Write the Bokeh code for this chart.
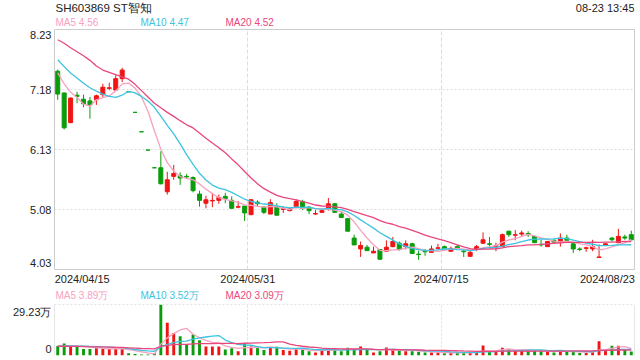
from bokeh.plotting import figure
from bokeh.layouts import column
from bokeh.models import Range1d, FixedTicker, Span
from bokeh.core.properties import value
from bokeh.embed import file_html
from bokeh.resources import INLINE

FONT = "Liberation Sans"
RED = "#f01414"
GREEN = "#0a9c0a"
C_MA5 = "#f7a1bf"
C_MA10 = "#3cc3df"
C_MA20 = "#e9467d"
BORDER = "#cccccc"
GRID = "#dcdcdc"

title_text = "SH603869 ST智知"
time_text = "08-23 13:45"
price_legend = ["MA5 4.56", "MA10 4.47", "MA20 4.52"]
vol_legend = ["MA5 3.89万", "MA10 3.52万", "MA20 3.09万"]
x_tick_labels = ["2024/04/15", "2024/05/31", "2024/07/15", "2024/08/23"]
price_tick_labels = ["4.03", "5.08", "6.13", "7.18", "8.23"]
vol_tick_labels = ["0", "29.23万"]

open_ = [7.50, 7.12, 6.60, 7.08, 7.01, 6.98, 7.00, 7.09, 7.20, 7.17,
         7.37, 7.14, 6.78, 6.44, 6.12, 5.81, 5.81, 5.39, 5.66, 5.67,
         5.66, 5.64, 5.35, 5.19, 5.23, 5.24, 5.31, 5.24, 5.12, 5.14,
         4.99, 5.21, 5.12, 5.00, 5.13, 5.08, 5.06, 5.13, 5.22, 5.12,
         5.00, 5.03, 5.09, 5.18, 5.00, 4.92, 4.58, 4.39, 4.42, 4.32,
         4.38, 4.35, 4.43, 4.49, 4.43, 4.48, 4.30, 4.36, 4.33, 4.40,
         4.43, 4.35, 4.43, 4.35, 4.26, 4.38, 4.49, 4.48, 4.43, 4.43,
         4.70, 4.63, 4.65, 4.66, 4.61, 4.47, 4.43, 4.54, 4.52, 4.58,
         4.48, 4.39, 4.40, 4.39, 4.24, 4.46, 4.58, 4.50, 4.60, 4.64]
high = [7.53, 7.12, 7.04, 7.14, 7.09, 7.05, 7.09, 7.28, 7.30, 7.43,
        7.56, 7.14, 6.78, 6.44, 6.12, 5.81, 6.10, 5.74, 5.86, 5.73,
        5.70, 5.66, 5.41, 5.32, 5.37, 5.34, 5.37, 5.31, 5.23, 5.14,
        5.26, 5.24, 5.14, 5.26, 5.19, 5.13, 5.12, 5.26, 5.25, 5.14,
        5.07, 5.09, 5.28, 5.19, 5.05, 4.93, 4.64, 4.52, 4.46, 4.43,
        4.39, 4.54, 4.60, 4.52, 4.54, 4.50, 4.36, 4.39, 4.45, 4.48,
        4.45, 4.43, 4.46, 4.38, 4.38, 4.46, 4.68, 4.60, 4.50, 4.66,
        4.71, 4.72, 4.71, 4.70, 4.62, 4.55, 4.53, 4.56, 4.66, 4.64,
        4.49, 4.42, 4.43, 4.55, 4.47, 4.49, 4.60, 4.74, 4.64, 4.71]
low = [7.00, 6.48, 6.59, 6.94, 6.87, 6.67, 6.91, 7.05, 7.17, 7.17,
       7.31, 7.14, 6.78, 6.44, 6.12, 5.81, 5.52, 5.34, 5.60, 5.51,
       5.62, 5.38, 5.13, 5.10, 5.12, 5.18, 5.19, 5.10, 5.10, 4.88,
       4.98, 5.13, 5.00, 5.00, 4.98, 5.02, 5.05, 5.10, 5.07, 5.00,
       4.99, 5.02, 5.06, 5.03, 4.93, 4.70, 4.46, 4.25, 4.36, 4.32,
       4.20, 4.34, 4.42, 4.36, 4.38, 4.31, 4.20, 4.27, 4.32, 4.38,
       4.38, 4.34, 4.39, 4.25, 4.26, 4.35, 4.48, 4.43, 4.35, 4.43,
       4.60, 4.54, 4.60, 4.60, 4.49, 4.43, 4.43, 4.49, 4.43, 4.52,
       4.32, 4.35, 4.34, 4.35, 4.24, 4.45, 4.52, 4.49, 4.55, 4.54]
close = [7.10, 6.51, 7.03, 7.06, 6.93, 6.91, 7.07, 7.22, 7.21, 7.37,
         7.52, 7.14, 6.78, 6.44, 6.12, 5.81, 5.53, 5.60, 5.71, 5.63,
         5.65, 5.41, 5.24, 5.25, 5.24, 5.29, 5.27, 5.10, 5.13, 5.02,
         5.25, 5.18, 5.03, 5.20, 4.98, 5.10, 5.09, 5.22, 5.10, 5.06,
         5.01, 5.06, 5.18, 5.03, 4.94, 4.70, 4.46, 4.45, 4.36, 4.35,
         4.21, 4.42, 4.52, 4.38, 4.48, 4.31, 4.29, 4.34, 4.39, 4.41,
         4.39, 4.40, 4.40, 4.34, 4.33, 4.43, 4.55, 4.47, 4.45, 4.64,
         4.64, 4.64, 4.67, 4.64, 4.50, 4.46, 4.52, 4.51, 4.58, 4.54,
         4.39, 4.38, 4.41, 4.43, 4.25, 4.48, 4.55, 4.61, 4.58, 4.55]
# volume in units of 10k shares (万)
volume = [5.4, 6.9, 5.6, 5.2, 3.7, 3.7, 4.2, 3.8, 3.7, 4.0,
          4.0, 1.3, 0.8, 0.6, 0.6, 1.3, 29.23, 18.7, 12.9, 11.0,
          6.2, 12.1, 8.7, 5.2, 5.2, 5.2, 3.5, 4.2, 2.5, 7.0,
          5.2, 4.4, 3.1, 4.6, 5.0, 3.1, 2.7, 3.7, 3.3, 2.5,
          1.7, 3.3, 4.0, 3.8, 2.5, 4.4, 3.3, 5.2, 3.3, 1.7,
          2.5, 4.6, 3.3, 2.9, 2.5, 2.5, 2.1, 1.7, 1.7, 1.7,
          1.3, 1.5, 1.7, 1.7, 1.5, 1.7, 5.8, 2.5, 2.5, 4.4,
          3.6, 2.8, 3.1, 2.7, 2.7, 2.7, 2.2, 1.7, 2.9, 2.2,
          2.0, 1.5, 1.5, 2.65, 8.1, 2.8, 5.6, 5.6, 3.1, 2.35]

ma5_head = [7.47, 7.28, 7.13, 7.04]
ma10_head = [7.70, 7.58, 7.47, 7.38, 7.29, 7.21, 7.15, 7.10, 7.06]
ma20_head = [8.05, 7.99, 7.91, 7.84, 7.77, 7.69, 7.59, 7.52, 7.48, 7.44,
             7.40, 7.36, 7.27, 7.16, 7.05, 6.94, 6.86, 6.78, 6.71]
vma5_head = [5.2, 5.5, 5.6, 5.5]
vma10_head = [5.4, 5.5, 5.5, 5.4, 5.3, 5.2, 5.1, 4.9, 4.8]
vma20_head = [5.3, 5.3, 5.2, 5.2, 5.1, 5.0, 5.0, 4.9, 4.8, 4.7,
              4.6, 4.4, 4.2, 4.0, 3.9, 3.8, 5.2, 5.8, 6.2]


def moving_avg(series, win, head):
    out = []
    for i in range(len(series)):
        if i < win - 1:
            out.append(head[i])
        else:
            out.append(sum(series[i - win + 1:i + 1]) / win)
    return out


n = len(close)
xs = list(range(n))
colors = []
for i in range(n):
    if close[i] > open_[i]:
        colors.append(RED)
    elif close[i] < open_[i]:
        colors.append(GREEN)
    else:
        prev = close[i - 1] if i > 0 else close[i]
        colors.append(RED if close[i] >= prev else GREEN)
body_top = [max(o, c) for o, c in zip(open_, close)]
body_bot = [min(o, c) for o, c in zip(open_, close)]

W = 640
LEFT = 54
RIGHT = 6
x_range = Range1d(-0.5, n - 0.5)


def text_panel(height):
    f = figure(width=W, height=height, x_range=Range1d(LEFT, W - RIGHT), y_range=Range1d(height, 0),
               x_axis_location=None, y_axis_location=None,
               min_border_left=LEFT, min_border_right=RIGHT, min_border_top=0, min_border_bottom=0,
               outline_line_color=None, toolbar_location=None, output_backend="svg")
    f.xgrid.visible = False
    f.ygrid.visible = False
    return f


def add_text(f, x, y, txt, color, size, align="left"):
    f.text(x=[x], y=[y], text=[txt], text_font=value(FONT), text_font_size=size,
           text_color=color, text_align=align, text_baseline="middle")


def style_axis(ax):
    ax.axis_line_color = None
    ax.major_tick_line_color = None
    ax.minor_tick_line_color = None
    ax.major_tick_out = 0
    ax.major_tick_in = 0
    ax.major_label_standoff = 3
    ax.major_label_text_font = FONT
    ax.major_label_text_font_size = "11px"
    ax.major_label_text_color = "#222222"


# header (page y 0..28)
head = text_panel(28)
add_text(head, 55, 7, title_text, "#222222", "11.5px")
add_text(head, 634, 7, time_text, "#222222", "11px", align="right")
for xx, txt, col in zip([55, 140, 225], price_legend, [C_MA5, C_MA10, C_MA20]):
    add_text(head, xx, 21.5, txt, col, "10px")

# main candlestick panel (frame page y 29..269)
p = figure(width=W, height=260, x_range=x_range, y_range=Range1d(4.03, 8.23),
           min_border_left=LEFT, min_border_right=RIGHT, min_border_top=1, min_border_bottom=19,
           toolbar_location=None, output_backend="svg")
p.outline_line_color = BORDER

p.xaxis.ticker = FixedTicker(ticks=[3.8, 29.5, 59.5, 85.3])
p.xaxis.major_label_overrides = dict(zip([3.8, 29.5, 59.5, 85.3], x_tick_labels))
p.yaxis.ticker = FixedTicker(ticks=[4.14, 5.08, 6.13, 7.18, 8.13])
p.yaxis.major_label_overrides = dict(zip([4.14, 5.08, 6.13, 7.18, 8.13], price_tick_labels))
style_axis(p.xaxis)
style_axis(p.yaxis)
p.xgrid.ticker = FixedTicker(ticks=[29.5, 59.5])
p.xgrid.grid_line_color = GRID
p.xgrid.grid_line_dash = "4 2"
p.ygrid.ticker = FixedTicker(ticks=[5.08, 6.13, 7.18])
p.ygrid.grid_line_color = GRID
p.ygrid.grid_line_dash = "2 2"

p.segment(x0=xs, y0=low, x1=xs, y1=high, line_color=colors, line_width=1)
p.vbar(x=xs, width=0.62, top=body_top, bottom=body_bot, fill_color=colors,
       line_color=colors, line_width=1)
p.line(xs, moving_avg(close, 5, ma5_head), line_color=C_MA5, line_width=1.3)
p.line(xs, moving_avg(close, 10, ma10_head), line_color=C_MA10, line_width=1.3)
p.line(xs, moving_avg(close, 20, ma20_head), line_color=C_MA20, line_width=1.3)

# volume legend strip (page y 288..303)
vleg = text_panel(15)
for xx, txt, col in zip([55, 140, 225], vol_legend, [C_MA5, C_MA10, C_MA20]):
    add_text(vleg, xx, 7, txt, col, "10px")

# volume panel (frame page y 304..355)
vmax = max(volume)
v = figure(width=W, height=56, x_range=x_range, y_range=Range1d(0, vmax),
           x_axis_location=None, min_border_left=LEFT, min_border_right=RIGHT,
           min_border_top=1, min_border_bottom=4,
           toolbar_location=None, output_backend="svg")
v.outline_line_color = None
v.yaxis.ticker = FixedTicker(ticks=[4.01, 24.99])
v.yaxis.major_label_overrides = dict(zip([4.01, 24.99], vol_tick_labels))
style_axis(v.yaxis)
v.ygrid.visible = False
v.xgrid.ticker = FixedTicker(ticks=[29.5, 59.5])
v.xgrid.grid_line_color = GRID
v.xgrid.grid_line_dash = "2 2"
v.add_layout(Span(location=-0.5, dimension="height", line_color=BORDER, line_width=1))
v.add_layout(Span(location=n - 0.5, dimension="height", line_color=BORDER, line_width=1))
v.add_layout(Span(location=vmax, dimension="width", line_color=BORDER, line_width=1,
                  line_dash="2 2"))

v.vbar(x=xs, width=0.45, top=volume, bottom=0, fill_color=colors, line_color=None)
v.line(xs, moving_avg(volume, 5, vma5_head), line_color=C_MA5, line_width=1.3)
v.line(xs, moving_avg(volume, 10, vma10_head), line_color=C_MA10, line_width=1.3)
v.line(xs, moving_avg(volume, 20, vma20_head), line_color=C_MA20, line_width=1.3)

layout = column(head, p, vleg, v, spacing=0)
open("out.html", "w").write(file_html(layout, INLINE))
